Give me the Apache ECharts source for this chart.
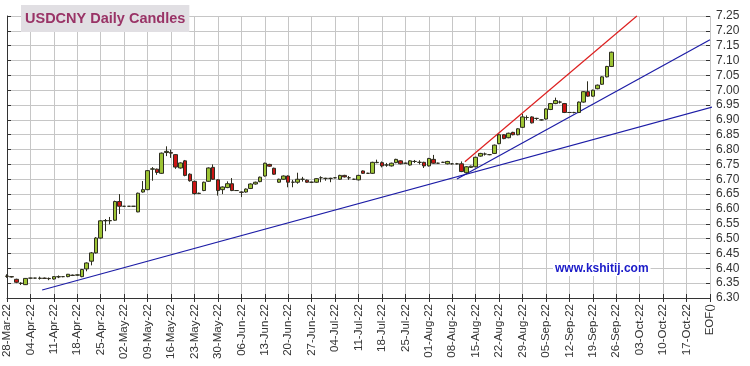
<!DOCTYPE html>
<html>
<head>
<meta charset="utf-8">
<script src="https://cdn.jsdelivr.net/npm/echarts@6/dist/echarts.min.js"></script>
<style>
  html, body { margin: 0; padding: 0; background: #fff; }
  #chart { width: 750px; height: 366px; }
</style>
</head>
<body>
<div id="chart"></div>
<script>
// axis slots: every weekday from 28-Mar-22 to 24-Oct-22, the last slot is labelled EOF()
const firstDay = new Date(2022, 2, 28);
const slotCount = 151;
const monthNames = ['Jan','Feb','Mar','Apr','May','Jun','Jul','Aug','Sep','Oct','Nov','Dec'];

// yAxis ticks
const priceMin = 6.30;
const priceMax = 7.25;
const priceStep = 0.05;

// daily candles [open, close, low, high], one row per weekday from 28-Mar-22
const usdcny = [
  [6.374, 6.373, 6.368, 6.380], [6.372, 6.371, 6.369, 6.374], [6.363, 6.353, 6.350, 6.365], [6.350, 6.349, 6.344, 6.353], [6.345, 6.366, 6.344, 6.367],
  [6.367, 6.367, 6.366, 6.368], [6.367, 6.367, 6.366, 6.368], [6.366, 6.367, 6.362, 6.372], [6.367, 6.366, 6.364, 6.369], [6.366, 6.365, 6.360, 6.369],
  [6.364, 6.372, 6.362, 6.373], [6.371, 6.372, 6.367, 6.376], [6.372, 6.372, 6.370, 6.374], [6.372, 6.380, 6.370, 6.381], [6.377, 6.376, 6.374, 6.379],
  [6.377, 6.378, 6.375, 6.380], [6.372, 6.396, 6.370, 6.398], [6.398, 6.418, 6.390, 6.420], [6.424, 6.452, 6.410, 6.455], [6.452, 6.502, 6.450, 6.505],
  [6.502, 6.560, 6.500, 6.562], [6.560, 6.561, 6.525, 6.566], [6.560, 6.561, 6.548, 6.573], [6.562, 6.625, 6.560, 6.628], [6.625, 6.609, 6.583, 6.650],
  [6.609, 6.609, 6.609, 6.609], [6.609, 6.609, 6.609, 6.609], [6.609, 6.609, 6.609, 6.609], [6.590, 6.653, 6.589, 6.655], [6.657, 6.665, 6.655, 6.694],
  [6.665, 6.729, 6.663, 6.731], [6.734, 6.735, 6.695, 6.741], [6.734, 6.723, 6.715, 6.736], [6.720, 6.788, 6.718, 6.790], [6.790, 6.794, 6.778, 6.811],
  [6.790, 6.788, 6.772, 6.800], [6.783, 6.741, 6.735, 6.785], [6.738, 6.755, 6.736, 6.757], [6.762, 6.713, 6.710, 6.765], [6.717, 6.695, 6.692, 6.720],
  [6.693, 6.652, 6.648, 6.695], [6.652, 6.653, 6.650, 6.655], [6.662, 6.690, 6.660, 6.692], [6.693, 6.738, 6.691, 6.740], [6.740, 6.700, 6.698, 6.750],
  [6.698, 6.662, 6.645, 6.700], [6.665, 6.674, 6.650, 6.676], [6.672, 6.685, 6.670, 6.693], [6.685, 6.662, 6.660, 6.704], [6.662, 6.662, 6.662, 6.662],
  [6.657, 6.656, 6.640, 6.659], [6.657, 6.667, 6.655, 6.669], [6.669, 6.684, 6.667, 6.686], [6.684, 6.690, 6.682, 6.692], [6.692, 6.707, 6.690, 6.709],
  [6.711, 6.754, 6.709, 6.756], [6.750, 6.744, 6.742, 6.752], [6.737, 6.717, 6.715, 6.739], [6.690, 6.700, 6.688, 6.702], [6.700, 6.711, 6.698, 6.713],
  [6.711, 6.690, 6.673, 6.713], [6.690, 6.690, 6.673, 6.698], [6.690, 6.700, 6.685, 6.722], [6.700, 6.700, 6.692, 6.708], [6.697, 6.690, 6.688, 6.699],
  [6.690, 6.690, 6.688, 6.692], [6.690, 6.702, 6.688, 6.704], [6.705, 6.705, 6.690, 6.710], [6.703, 6.703, 6.695, 6.705], [6.703, 6.703, 6.690, 6.705],
  [6.705, 6.705, 6.703, 6.707], [6.700, 6.713, 6.698, 6.715], [6.713, 6.708, 6.706, 6.715], [6.705, 6.705, 6.698, 6.711], [6.700, 6.700, 6.698, 6.702],
  [6.698, 6.713, 6.696, 6.715], [6.728, 6.720, 6.718, 6.730], [6.720, 6.720, 6.718, 6.722], [6.720, 6.757, 6.718, 6.759], [6.756, 6.757, 6.754, 6.766],
  [6.756, 6.745, 6.740, 6.760], [6.748, 6.748, 6.742, 6.755], [6.745, 6.754, 6.743, 6.756], [6.756, 6.767, 6.754, 6.769], [6.762, 6.752, 6.750, 6.764],
  [6.754, 6.754, 6.752, 6.756], [6.748, 6.762, 6.746, 6.764], [6.760, 6.760, 6.755, 6.765], [6.757, 6.757, 6.750, 6.764], [6.757, 6.745, 6.738, 6.759],
  [6.745, 6.770, 6.743, 6.772], [6.767, 6.754, 6.752, 6.782], [6.754, 6.754, 6.752, 6.756], [6.757, 6.757, 6.755, 6.759], [6.752, 6.760, 6.750, 6.762],
  [6.752, 6.752, 6.750, 6.754], [6.752, 6.752, 6.750, 6.755], [6.752, 6.726, 6.724, 6.760], [6.722, 6.742, 6.720, 6.744], [6.740, 6.744, 6.738, 6.746],
  [6.742, 6.774, 6.740, 6.776], [6.778, 6.787, 6.776, 6.789], [6.785, 6.785, 6.780, 6.790], [6.783, 6.783, 6.781, 6.785], [6.787, 6.815, 6.785, 6.817],
  [6.820, 6.850, 6.818, 6.852], [6.850, 6.837, 6.835, 6.852], [6.840, 6.855, 6.838, 6.857], [6.858, 6.850, 6.848, 6.860], [6.850, 6.870, 6.848, 6.872],
  [6.875, 6.910, 6.873, 6.920], [6.908, 6.908, 6.900, 6.915], [6.910, 6.890, 6.888, 6.912], [6.905, 6.905, 6.900, 6.907], [6.900, 6.900, 6.898, 6.902],
  [6.903, 6.937, 6.901, 6.939], [6.935, 6.955, 6.933, 6.957], [6.955, 6.965, 6.953, 6.975], [6.960, 6.960, 6.955, 6.965], [6.955, 6.925, 6.923, 6.957],
  [6.925, 6.925, 6.925, 6.925], [6.925, 6.925, 6.922, 6.927], [6.925, 6.960, 6.923, 6.962], [6.960, 6.995, 6.958, 6.997], [6.995, 6.980, 6.978, 7.030],
  [6.980, 7.000, 6.978, 7.002], [7.005, 7.017, 7.003, 7.019], [7.020, 7.045, 7.018, 7.047], [7.045, 7.080, 7.043, 7.082], [7.080, 7.128, 7.078, 7.130]
];

// trend lines as [day slot, price] end points
const longSupport = [[7.5, 6.327], [152.0, 6.95]];
const shortSupport = [[96.0, 6.701], [150.0, 7.170]];
const channelTop = [[97.7, 6.759], [134.4, 7.25]];

const dates = [];
for (let d = new Date(firstDay); dates.length < slotCount; d.setDate(d.getDate() + 1)) {
  const wd = d.getDay();
  if (wd === 0 || wd === 6) continue;
  const dd = String(d.getDate()).padStart(2, '0');
  dates.push(dd + '-' + monthNames[d.getMonth()] + '-' + String(d.getFullYear()).slice(2));
}
dates[slotCount - 1] = 'EOF()';

const chart = echarts.init(document.getElementById('chart'));
const font = '"Liberation Sans", Arial, sans-serif';
const gridColor = '#c6c6c6';

const trend = (data, color) => ({
  type: 'line',
  xAxisIndex: 1,
  data: data,
  symbol: 'none',
  clip: false,
  silent: true,
  z: 3,
  lineStyle: { color: color, width: 1.2 }
});

chart.setOption({
  animation: false,
  title: {
    text: 'USDCNY Daily Candles',
    left: 21,
    top: 5,
    padding: [6, 4, 6, 4],
    backgroundColor: '#e1dfe3',
    textStyle: { color: '#993366', fontSize: 14.5, fontWeight: 'bold', fontFamily: font }
  },
  graphic: [{
    type: 'text',
    left: 553,
    top: 262,
    z: 10,
    style: {
      text: 'www.kshitij.com',
      fill: '#1a1ac8',
      font: 'bold 12px ' + font,
      backgroundColor: '#fff',
      padding: [1, 2, 1, 2]
    }
  }],
  grid: { left: 7, right: 40, top: 16, bottom: 68 },
  xAxis: [{
    type: 'category',
    data: dates,
    boundaryGap: false,
    axisLine: { lineStyle: { color: '#333' } },
    axisTick: { interval: 4, length: 4, lineStyle: { color: '#333' } },
    axisLabel: { interval: 4, rotate: 90, margin: 6, fontSize: 11.5, color: '#333', fontFamily: font },
    splitLine: { show: true, interval: 4, lineStyle: { color: gridColor } }
  }, {
    type: 'value',
    min: 0,
    max: slotCount - 1,
    interval: 5,
    position: 'bottom',
    axisLine: { show: false },
    axisTick: { show: true, inside: true, length: 4, lineStyle: { color: '#333' } },
    axisLabel: { show: false },
    splitLine: { show: false }
  }],
  yAxis: [{
    type: 'value',
    position: 'right',
    min: priceMin,
    max: priceMax,
    interval: priceStep,
    axisLine: { show: true, lineStyle: { color: '#333' } },
    axisTick: { show: true, length: 4, lineStyle: { color: '#333' } },
    axisLabel: { margin: 6, fontSize: 12, color: '#333', fontFamily: font, formatter: v => v.toFixed(2) },
    splitLine: { show: true, lineStyle: { color: gridColor } }
  }, {
    type: 'value',
    position: 'right',
    min: priceMin,
    max: priceMax,
    interval: priceStep,
    axisLine: { show: false },
    axisTick: { show: true, inside: true, length: 4, lineStyle: { color: '#333' } },
    axisLabel: { show: false },
    splitLine: { show: false }
  }],
  series: [{
    type: 'candlestick',
    data: usdcny,
    barWidth: 4,
    z: 4,
    itemStyle: {
      color: '#9dc434',
      color0: '#cc1515',
      borderColor: '#2e2e20',
      borderColor0: '#2e2e20',
      borderWidth: 1
    }
  },
    trend(longSupport, '#1c1ca6'),
    trend(shortSupport, '#1c1ca6'),
    trend(channelTop, '#dd2020')
  ]
});
</script>
</body>
</html>
